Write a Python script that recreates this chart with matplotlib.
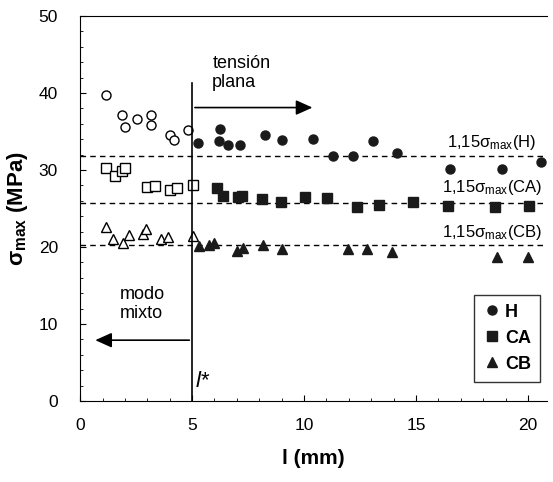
import matplotlib
matplotlib.use("Agg")
import matplotlib.pyplot as plt
from matplotlib.ticker import MultipleLocator

plt.rcParams['font.family'] = ['Liberation Sans', 'DejaVu Sans']
plt.rcParams['mathtext.default'] = 'regular'

# modo mixto (open markers)
h_open_x = [1.16, 1.86, 1.98, 2.53, 3.17, 3.17, 4.02, 4.17, 4.81]
h_open_y = [39.7, 37.1, 35.6, 36.6, 37.1, 35.8, 34.5, 33.9, 35.2]
ca_open_x = [1.16, 1.56, 1.86, 2.0, 2.98, 3.35, 4.02, 4.32, 5.03]
ca_open_y = [30.3, 29.2, 29.8, 30.3, 27.8, 27.9, 27.4, 27.7, 28.0]
cb_open_x = [1.16, 1.46, 1.93, 2.16, 2.80, 2.95, 3.6, 3.91, 5.06]
cb_open_y = [22.6, 21.0, 20.5, 21.6, 21.7, 22.3, 21.0, 21.3, 21.4]

# tension plana (filled markers)
h_x = [5.25, 6.25, 6.18, 6.62, 7.14, 8.26, 9.0, 10.42, 11.31, 12.17, 13.07, 14.14, 16.52, 18.85, 20.58]
h_y = [33.5, 35.3, 33.8, 33.2, 33.2, 34.6, 33.9, 34.0, 31.8, 31.8, 33.8, 32.2, 30.1, 30.1, 31.0]
ca_x = [6.1, 6.36, 7.07, 7.25, 8.14, 8.97, 10.06, 11.01, 12.35, 13.35, 14.85, 16.45, 18.53, 20.06]
ca_y = [27.6, 26.6, 26.5, 26.6, 26.2, 25.8, 26.5, 26.3, 25.2, 25.5, 25.8, 25.3, 25.2, 25.3]
cb_x = [5.3, 5.76, 6.0, 6.99, 7.29, 8.18, 9.03, 11.98, 12.8, 13.94, 18.6, 20.01]
cb_y = [20.1, 20.3, 20.5, 19.5, 19.9, 20.3, 19.7, 19.7, 19.7, 19.3, 18.7, 18.7]

# 1,15 sigma_max levels
lim_vals = [31.8, 25.7, 20.2]
lim_names = ['H', 'CA', 'CB']
lim_text_y = [33.5, 27.7, 21.9]

l_star = 5

fig = plt.figure(figsize=(5.53, 4.82), dpi=100)
ax = fig.add_axes([0.145, 0.168, 0.844, 0.799])

fc = '#1a1a1a'
ax.plot(h_open_x, h_open_y, 'o', mfc='white', mec='black', ms=6.5, mew=1.0)
ax.plot(ca_open_x, ca_open_y, 's', mfc='white', mec='black', ms=7, mew=1.0)
ax.plot(cb_open_x, cb_open_y, '^', mfc='white', mec='black', ms=7, mew=1.0)
ax.plot(h_x, h_y, 'o', color=fc, ms=6.5, label='H')
ax.plot(ca_x, ca_y, 's', color=fc, ms=7, label='CA')
ax.plot(cb_x, cb_y, '^', color=fc, ms=7, label='CB')

for v, n, ty in zip(lim_vals, lim_names, lim_text_y):
    ax.axhline(v, color='black', ls=(0, (4, 3)), lw=1.0, zorder=1)
    ax.text(18.4, ty, '1,15σ$_{max}$(' + n + ')', ha='center', va='center', fontsize=12)

ax.plot([l_star, l_star], [0, 41.3], color='black', lw=1.2)
ax.annotate('', xy=(10.5, 38.1), xytext=(l_star, 38.1),
            arrowprops=dict(arrowstyle='-|>,head_length=1.0,head_width=0.45', color='black', lw=1.2))
ax.annotate('', xy=(0.55, 7.9), xytext=(l_star, 7.9),
            arrowprops=dict(arrowstyle='-|>,head_length=1.0,head_width=0.45', color='black', lw=1.2))
ax.text(5.9, 42.6, 'tensión\nplana', ha='left', va='center', fontsize=13, linespacing=1.2)
ax.text(1.75, 12.6, 'modo\nmixto', ha='left', va='center', fontsize=13, linespacing=1.2)
ax.text(5.45, 2.5, 'l*', ha='center', va='center', fontsize=16, style='italic')

ax.set_xlim(0, 20.85)
ax.set_ylim(0, 50)
ax.xaxis.set_major_locator(MultipleLocator(5))
ax.xaxis.set_minor_locator(MultipleLocator(1))
ax.yaxis.set_major_locator(MultipleLocator(10))
ax.yaxis.set_minor_locator(MultipleLocator(2))
ax.tick_params(which='both', direction='in', labelsize=12.5)
ax.tick_params(which='major', length=4)
ax.tick_params(which='minor', length=2)
ax.tick_params(axis='y', pad=16)
ax.tick_params(axis='x', pad=12)
ax.spines['right'].set_visible(False)
for s in ['top', 'left', 'bottom']:
    ax.spines[s].set_linewidth(0.8)

ax.set_xlabel('l (mm)', fontsize=15, fontweight='bold', labelpad=12)
ax.set_ylabel('σ$_{max}$ (MPa)', fontsize=16, fontweight='bold', labelpad=6)

leg = ax.legend(loc='lower right', bbox_to_anchor=(0.985, 0.05), borderaxespad=0,
                frameon=True, fancybox=False,
                edgecolor='black', handletextpad=0.2, borderpad=0.5, labelspacing=0.5,
                handlelength=1.0, prop={'weight': 'bold', 'size': 13})
leg.get_frame().set_linewidth(1.0)

fig.savefig('out.png', dpi=100)
